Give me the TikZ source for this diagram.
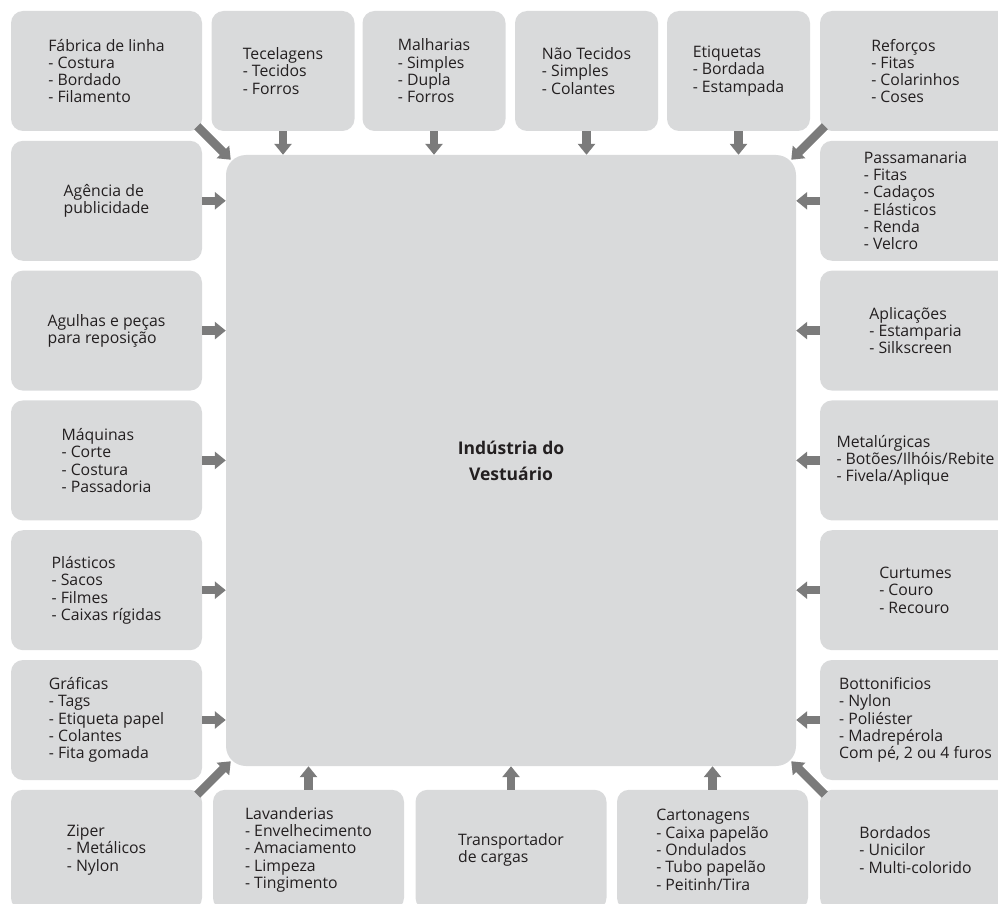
\documentclass[tikz,border=0pt]{standalone}
\usepackage{fontspec}
\setmainfont{Open Sans}
\usetikzlibrary{arrows.meta}
\definecolor{boxgray}{HTML}{D9DADB}
\definecolor{arrgray}{HTML}{7B7B7B}
\definecolor{txtgray}{HTML}{231F20}

\begin{document}
\begin{tikzpicture}[x=1pt, y=-1pt,
  box/.style={fill=boxgray, rounded corners=12pt, align=left, text=txtgray,
    font=\fontsize{15.8}{17.3}\selectfont, inner sep=0pt, minimum height=120pt},
  wide/.style={box, minimum width=191pt},
  narrow/.style={box, minimum width=143pt},
  core/.style={fill=boxgray, rounded corners=20pt, align=center, text=txtgray,
    font=\fontsize{17.5}{26}\selectfont\bfseries, minimum width=570pt, minimum height=611pt},
  arr/.style={draw=arrgray, line width=8.5pt, -{Triangle[width=17pt,length=11pt]}},
  diag/.style={arr, shorten <=-7pt, shorten >=-7pt}]
  \useasboundingbox (0,0) rectangle (998,904);
  \clip (0,0) rectangle (998,904);
  % Centre
  \node[core] (ind) at (511,460.5) {Indústria do\\Vestuário};
  % Top row
  \node[wide]   (fab) at (106.5,71) {Fábrica de linha\\- Costura\\- Bordado\\- Filamento};
  \node[narrow] (tec) at (283,71)   {Tecelagens\\- Tecidos\\- Forros};
  \node[narrow] (mal) at (434,71)   {Malharias\\- Simples\\- Dupla\\- Forros};
  \node[narrow] (nte) at (586.5,71) {Não Tecidos\\- Simples\\- Colantes};
  \node[narrow] (eti) at (738.5,71) {Etiquetas\\- Bordada\\- Estampada};
  \node[wide]   (ref) at (915.5,71) {Reforços\\- Fitas\\- Colarinhos\\- Coses};
  % Left column
  \node[wide] (age) at (106.5,200.8) {Agência de\\publicidade};
  \node[wide] (agu) at (106.5,330.6) {Agulhas e peças\\para reposição};
  \node[wide] (maq) at (106.5,460.4) {Máquinas\\- Corte\\- Costura\\- Passadoria};
  \node[wide] (pla) at (106.5,590.2) {Plásticos\\- Sacos\\- Filmes\\- Caixas rígidas};
  \node[wide] (gra) at (106.5,720)   {Gráficas\\- Tags\\- Etiqueta papel\\- Colantes\\- Fita gomada};
  % Right column
  \node[wide] (pas) at (915.5,200.8) {Passamanaria\\- Fitas\\- Cadaços\\- Elásticos\\- Renda\\- Velcro};
  \node[wide] (apl) at (915.5,330.6) {Aplicações\\- Estamparia\\- Silkscreen};
  \node[wide] (met) at (915.5,460.4) {Metalúrgicas\\- Botões/Ilhóis/Rebite\\- Fivela/Aplique};
  \node[wide] (cur) at (915.5,590.2) {Curtumes\\- Couro\\- Recouro};
  \node[wide] (bot) at (915.5,720)   {Bottonificios\\- Nylon\\- Poliéster\\- Madrepérola\\Com pé, 2 ou 4 furos};
  % Bottom row
  \node[wide] (zip) at (106.5,849.8) {Ziper\\- Metálicos\\- Nylon};
  \node[wide] (lav) at (308.5,849.8) {Lavanderias\\- Envelhecimento\\- Amaciamento\\- Limpeza\\- Tingimento};
  \node[wide] (tra) at (511,849.8)   {Transportador\\de cargas};
  \node[wide] (car) at (712.5,849.8) {Cartonagens\\- Caixa papelão\\- Ondulados\\- Tubo papelão\\- Peitinh/Tira};
  \node[wide] (bor) at (915.5,849.8) {Bordados\\- Unicilor\\- Multi-colorido};
  % Arrows into the centre
  \foreach \n in {tec,mal,nte,eti}
    \draw[arr] (\n.south) -- (\n.south |- ind.north);
  \foreach \n in {lav,tra,car}
    \draw[arr] (\n.north) -- (\n.north |- ind.south);
  \foreach \n in {age,agu,maq,pla,gra}
    \draw[arr] (\n.east) -- (\n.east -| ind.west);
  \foreach \n in {pas,apl,met,cur,bot}
    \draw[arr] (\n.west) -- (\n.west -| ind.east);
  % Corner arrows
  \draw[diag] (fab.south east) -- (ind.north west);
  \draw[diag] (ref.south west) -- (ind.north east);
  \draw[diag] (zip.north east) -- (ind.south west);
  \draw[diag] (bor.north west) -- (ind.south east);
\end{tikzpicture}
\end{document}
